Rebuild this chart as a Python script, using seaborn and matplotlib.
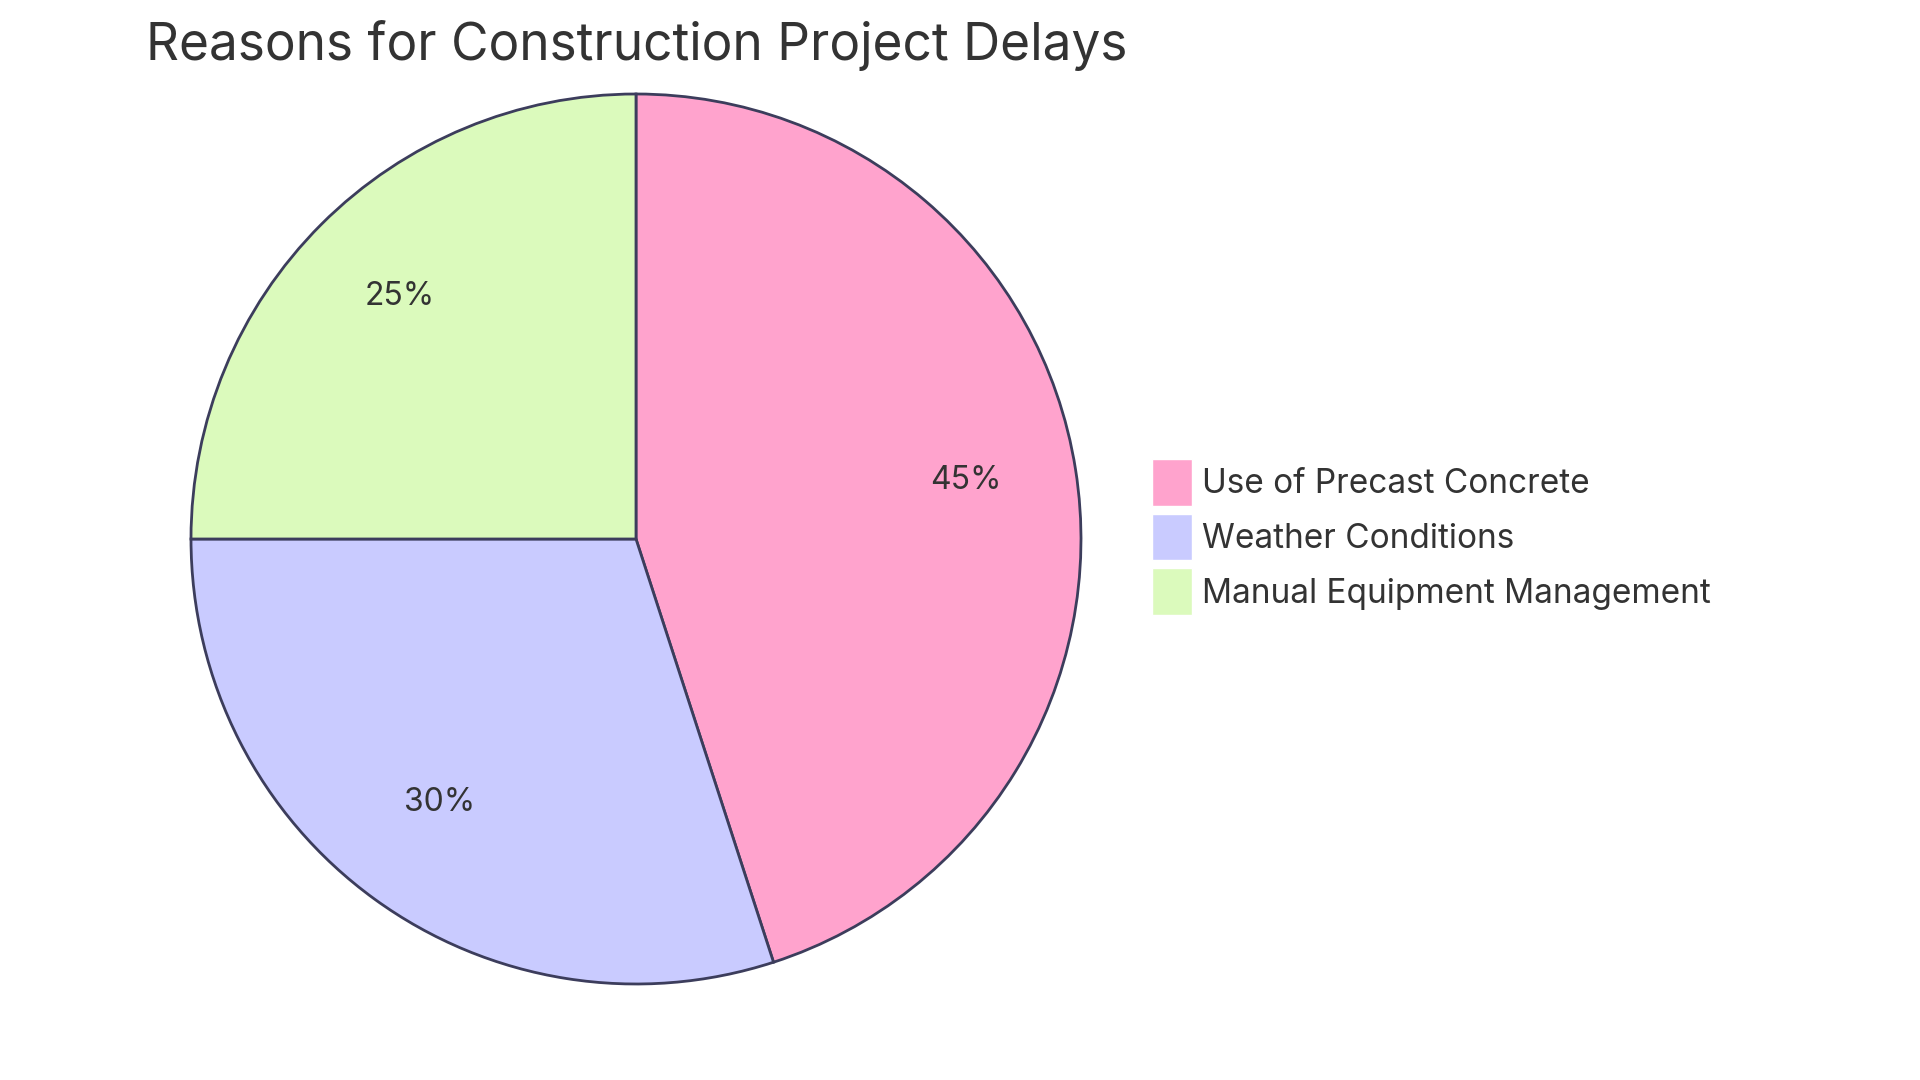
import matplotlib
matplotlib.use("Agg")
import matplotlib.pyplot as plt
import seaborn as sns
from matplotlib.patches import Patch

sns.set_theme(style="white")
plt.rcParams["font.family"] = ["Inter", "DejaVu Sans"]

# data
reasons = ["Use of Precast Concrete", "Weather Conditions", "Manual Equipment Management"]
shares = [45, 30, 25]
colours = ["#FFA3CD", "#C9CBFF", "#DBFABC"]
edge = "#3C3D5C"
text_col = "#333333"

W, H = 1920, 1080
fig = plt.figure(figsize=(W / 100, H / 100), dpi=100)
fig.patch.set_facecolor("white")

# pie centre (636, 539), radius 445 px
cx, cy, r = 636, 539, 445
ax = fig.add_axes([(cx - r) / W, (H - cy - r) / H, 2 * r / W, 2 * r / H])
wedges, _, autotexts = ax.pie(
    shares,
    colors=colours,
    startangle=90,
    counterclock=False,
    autopct=lambda p: f"{p:.0f}%",
    pctdistance=0.75,
    wedgeprops=dict(edgecolor=edge, linewidth=2),
    textprops=dict(fontsize=23, color=text_col),
)
# labels sit a touch higher in the reference
for t in autotexts:
    x, y = t.get_position()
    t.set_position((x, y + 0.014))
ax.set_xlim(-1.0, 1.0)
ax.set_ylim(-1.0, 1.0)
ax.axis("off")

fig.text(146 / W, 1 - 60 / H, "Reasons for Construction Project Delays",
         fontsize=37, color=text_col, va="baseline", ha="left")

handles = [Patch(facecolor=c, edgecolor="white", linewidth=1) for c in colours]
fig.legend(handles, reasons, loc="upper left",
           bbox_to_anchor=(1152 / W, 1 - 459 / H),
           frameon=False, fontsize=24, labelcolor=text_col,
           handlelength=1.2, handleheight=1.78, handletextpad=0.3,
           labelspacing=0.24, borderpad=0, borderaxespad=0)

fig.savefig("out.png", dpi=100, facecolor="white")
